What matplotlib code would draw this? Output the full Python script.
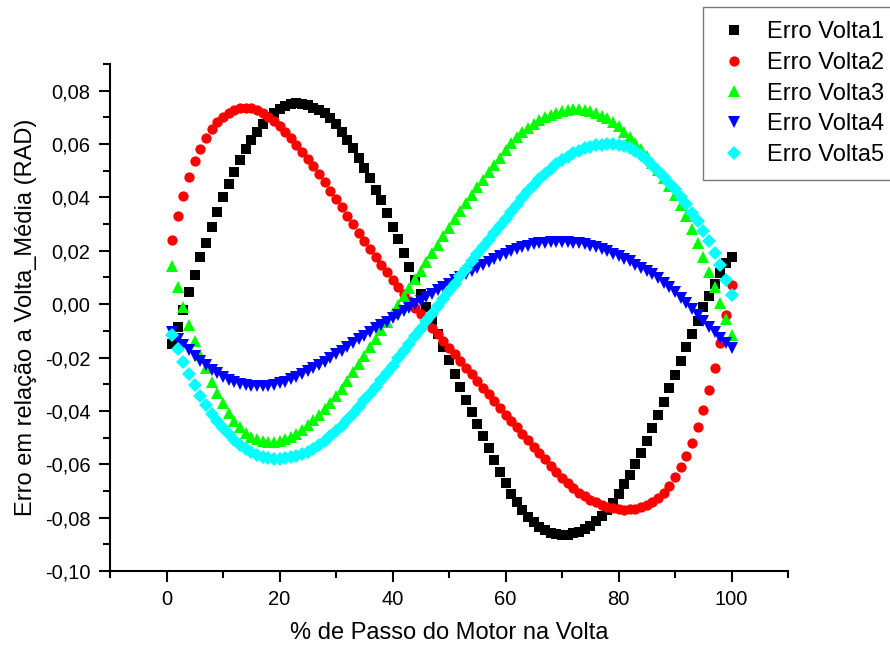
import matplotlib
matplotlib.use("Agg")
import matplotlib.pyplot as plt
from matplotlib.ticker import MultipleLocator, FuncFormatter

plt.rcParams['font.family'] = ['Liberation Sans', 'DejaVu Sans']

# passo do motor (%)
passo = list(range(1, 101))

volta1 = [-0.0150, -0.0087, -0.0020, 0.0046, 0.0110, 0.0176, 0.0230, 0.0290, 0.0346, 0.0400,
          0.0450, 0.0496, 0.0540, 0.0580, 0.0615, 0.0646, 0.0675, 0.0700, 0.0717, 0.0732,
          0.0744, 0.0751, 0.0755, 0.0752, 0.0746, 0.0737, 0.0727, 0.0715, 0.0696, 0.0675,
          0.0646, 0.0615, 0.0584, 0.0546, 0.0509, 0.0471, 0.0427, 0.0390, 0.0340, 0.0290,
          0.0243, 0.0190, 0.0140, 0.0090, 0.0040, -0.0010, -0.0060, -0.0110, -0.0160, -0.0210,
          -0.0260, -0.0310, -0.0360, -0.0405, -0.0450, -0.0495, -0.0540, -0.0585, -0.0630, -0.0672,
          -0.0710, -0.0742, -0.0770, -0.0797, -0.0817, -0.0834, -0.0847, -0.0857, -0.0863, -0.0866,
          -0.0864, -0.0859, -0.0852, -0.0842, -0.0830, -0.0813, -0.0793, -0.0770, -0.0744, -0.0710,
          -0.0675, -0.0639, -0.0598, -0.0556, -0.0513, -0.0464, -0.0416, -0.0366, -0.0316, -0.0264,
          -0.0214, -0.0160, -0.0112, -0.0062, -0.0012, 0.0030, 0.0075, 0.0116, 0.0155, 0.0178]

volta2 = [0.0240, 0.0330, 0.0406, 0.0476, 0.0535, 0.0582, 0.0623, 0.0657, 0.0683, 0.0703,
          0.0718, 0.0729, 0.0735, 0.0737, 0.0734, 0.0727, 0.0716, 0.0702, 0.0685, 0.0666,
          0.0645, 0.0622, 0.0598, 0.0572, 0.0545, 0.0516, 0.0486, 0.0456, 0.0425, 0.0394,
          0.0363, 0.0332, 0.0300, 0.0268, 0.0236, 0.0205, 0.0175, 0.0147, 0.0119, 0.0091,
          0.0064, 0.0038, 0.0012, -0.0013, -0.0038, -0.0063, -0.0088, -0.0113, -0.0138, -0.0163,
          -0.0188, -0.0213, -0.0238, -0.0263, -0.0288, -0.0313, -0.0338, -0.0364, -0.0390, -0.0414,
          -0.0438, -0.0462, -0.0486, -0.0510, -0.0534, -0.0558, -0.0582, -0.0606, -0.0630, -0.0653,
          -0.0672, -0.0690, -0.0706, -0.0720, -0.0732, -0.0743, -0.0752, -0.0759, -0.0764, -0.0768,
          -0.0770, -0.0769, -0.0766, -0.0760, -0.0752, -0.0741, -0.0725, -0.0706, -0.0680, -0.0648,
          -0.0610, -0.0570, -0.0520, -0.0460, -0.0398, -0.0320, -0.0239, -0.0145, -0.0040, 0.0070]

volta3 = [0.0142, 0.0063, -0.0012, -0.0079, -0.0138, -0.0190, -0.0240, -0.0290, -0.0333, -0.0372,
          -0.0407, -0.0437, -0.0462, -0.0482, -0.0497, -0.0507, -0.0512, -0.0515, -0.0515, -0.0512,
          -0.0506, -0.0497, -0.0485, -0.0470, -0.0454, -0.0435, -0.0415, -0.0394, -0.0370, -0.0345,
          -0.0317, -0.0287, -0.0256, -0.0225, -0.0193, -0.0162, -0.0130, -0.0098, -0.0066, -0.0034,
          -0.0002, 0.0030, 0.0062, 0.0094, 0.0126, 0.0158, 0.0190, 0.0222, 0.0254, 0.0286,
          0.0318, 0.0349, 0.0380, 0.0410, 0.0439, 0.0467, 0.0494, 0.0520, 0.0548, 0.0577,
          0.0603, 0.0625, 0.0645, 0.0662, 0.0677, 0.0690, 0.0701, 0.0710, 0.0718, 0.0724,
          0.0728, 0.0730, 0.0730, 0.0728, 0.0723, 0.0716, 0.0707, 0.0696, 0.0682, 0.0666,
          0.0647, 0.0627, 0.0605, 0.0581, 0.0556, 0.0530, 0.0502, 0.0473, 0.0443, 0.0410,
          0.0372, 0.0330, 0.0282, 0.0230, 0.0177, 0.0122, 0.0065, 0.0003, -0.0056, -0.0116]

volta4 = [-0.0106, -0.0129, -0.0152, -0.0173, -0.0193, -0.0212, -0.0229, -0.0245, -0.0259, -0.0272,
          -0.0283, -0.0292, -0.0299, -0.0304, -0.0307, -0.0308, -0.0308, -0.0306, -0.0302, -0.0297,
          -0.0290, -0.0282, -0.0273, -0.0263, -0.0252, -0.0240, -0.0228, -0.0215, -0.0202, -0.0188,
          -0.0174, -0.0160, -0.0146, -0.0132, -0.0118, -0.0104, -0.0091, -0.0078, -0.0065, -0.0052,
          -0.0039, -0.0026, -0.0013, 0.0000, 0.0013, 0.0026, 0.0039, 0.0052, 0.0065, 0.0077,
          0.0089, 0.0101, 0.0113, 0.0125, 0.0137, 0.0148, 0.0159, 0.0169, 0.0179, 0.0189,
          0.0198, 0.0206, 0.0213, 0.0219, 0.0224, 0.0228, 0.0231, 0.0233, 0.0234, 0.0234,
          0.0233, 0.0231, 0.0228, 0.0224, 0.0219, 0.0213, 0.0206, 0.0198, 0.0189, 0.0180,
          0.0170, 0.0160, 0.0148, 0.0137, 0.0125, 0.0112, 0.0097, 0.0081, 0.0063, 0.0044,
          0.0024, 0.0003, -0.0018, -0.0040, -0.0062, -0.0084, -0.0106, -0.0127, -0.0147, -0.0166]

volta5 = [-0.0114, -0.0168, -0.0216, -0.0262, -0.0304, -0.0343, -0.0378, -0.0410, -0.0438, -0.0464,
          -0.0488, -0.0508, -0.0526, -0.0541, -0.0554, -0.0564, -0.0572, -0.0577, -0.0580, -0.0580,
          -0.0578, -0.0574, -0.0568, -0.0561, -0.0553, -0.0541, -0.0527, -0.0511, -0.0494, -0.0475,
          -0.0455, -0.0434, -0.0411, -0.0386, -0.0360, -0.0335, -0.0310, -0.0284, -0.0257, -0.0230,
          -0.0203, -0.0176, -0.0148, -0.0120, -0.0092, -0.0064, -0.0036, -0.0008, 0.0020, 0.0048,
          0.0076, 0.0104, 0.0132, 0.0160, 0.0187, 0.0214, 0.0241, 0.0267, 0.0293, 0.0318,
          0.0345, 0.0372, 0.0398, 0.0423, 0.0446, 0.0468, 0.0488, 0.0507, 0.0524, 0.0539,
          0.0553, 0.0565, 0.0575, 0.0584, 0.0590, 0.0595, 0.0598, 0.0600, 0.0600, 0.0597,
          0.0592, 0.0584, 0.0573, 0.0559, 0.0541, 0.0522, 0.0500, 0.0478, 0.0455, 0.0430,
          0.0403, 0.0374, 0.0343, 0.0310, 0.0275, 0.0236, 0.0193, 0.0145, 0.0092, 0.0035]

nomes = ['Erro Volta1', 'Erro Volta2', 'Erro Volta3', 'Erro Volta4', 'Erro Volta5']
series = [volta1, volta2, volta3, volta4, volta5]
cores = ['#000000', '#ff0000', '#00ff00', '#0000ff', '#00ffff']
marcadores = ['s', 'o', '^', 'v', 'D']
tamanhos = [6.8, 7.4, 8.5, 8.5, 6.8]

fig = plt.figure(figsize=(8.9, 6.48), dpi=100)
ax = fig.add_axes([0.1236, 0.1188, 0.7618, 0.7824])

for y, nome, cor, m, ms in zip(series, nomes, cores, marcadores, tamanhos):
    ax.plot(passo, y, linestyle='none', marker=m, markersize=ms, color=cor,
            markeredgewidth=0, label=nome)

ax.set_xlim(-10, 110)
ax.set_ylim(-0.10, 0.09)
ax.xaxis.set_major_locator(MultipleLocator(20))
ax.xaxis.set_minor_locator(MultipleLocator(10))
ax.yaxis.set_major_locator(MultipleLocator(0.02))
ax.yaxis.set_minor_locator(MultipleLocator(0.01))
ax.yaxis.set_major_formatter(FuncFormatter(lambda v, p: f"{v:.2f}".replace('.', ',').replace('-0,00', '0,00')))
ax.xaxis.set_major_formatter(FuncFormatter(lambda v, p: f"{v:.0f}"))

for lado in ['top', 'right']:
    ax.spines[lado].set_visible(False)
for lado in ['left', 'bottom']:
    ax.spines[lado].set_linewidth(1.5)

ax.tick_params(which='major', direction='out', length=8, width=1.5, labelsize=14.5, pad=6)
ax.tick_params(which='minor', direction='out', length=5, width=1.5)

ax.set_xlabel('% de Passo do Motor na Volta', fontsize=17, labelpad=9)
ax.set_ylabel('Erro em relação a Volta_Média (RAD)', fontsize=17, labelpad=6)

leg = fig.legend(loc='upper left', bbox_to_anchor=(703 / 890, 1 - 7 / 648),
                 fontsize=17, frameon=True, fancybox=False, borderpad=0.6,
                 labelspacing=0.37, handlelength=1.4, handletextpad=0.7, borderaxespad=0)
leg.get_frame().set_edgecolor('#555555')
leg.get_frame().set_linewidth(1.0)

fig.savefig('out.png', dpi=100)
